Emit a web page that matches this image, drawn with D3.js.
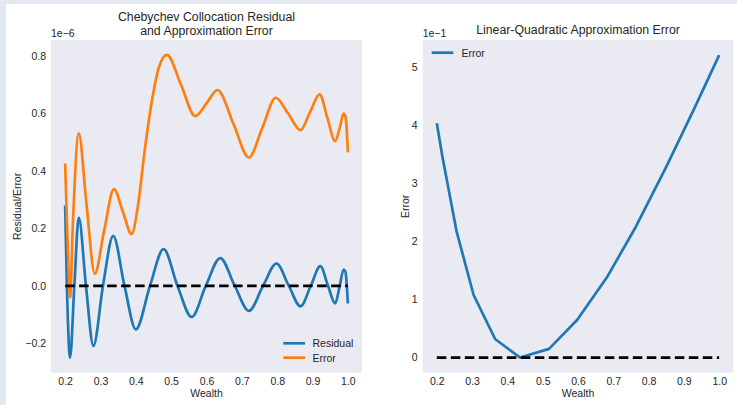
<!DOCTYPE html>
<html>
<head>
<meta charset="utf-8">
<script src="https://cdn.jsdelivr.net/npm/d3@7"></script>
<style>
  html, body { margin: 0; padding: 0; background: #e2e8f0; }
  svg { display: block; }
  text { font-family: "Liberation Sans", Arial, sans-serif; fill: #262626; }
</style>
</head>
<body>
<svg id="chart" width="737" height="405"></svg>
<script>
// ---- Left panel: Chebyshev collocation (values in units of 1e-6) ----
const chebX = [0.2, 0.205, 0.214, 0.226, 0.2385, 0.259, 0.28, 0.307, 0.336, 0.368, 0.40, 0.44, 0.4785, 0.518, 0.558, 0.598, 0.639, 0.68, 0.72, 0.76, 0.798, 0.833, 0.866, 0.895, 0.922, 0.944, 0.964, 0.977, 0.988, 0.993, 1.0];
const residual = [0.28, 0.0, -0.25, 0.0, 0.238, 0.0, -0.209, 0.0, 0.174, 0.0, -0.151, 0.0, 0.128, 0.0, -0.108, 0.0, 0.097, 0.0, -0.087, 0.0, 0.078, 0.0, -0.071, 0.0, 0.069, 0.0, -0.061, 0.0, 0.057, 0.05, -0.061];

const errX = [0.2, 0.207, 0.214, 0.222, 0.2385, 0.26, 0.284, 0.31, 0.338, 0.363, 0.388, 0.405, 0.425, 0.445, 0.465, 0.488, 0.528, 0.568, 0.6, 0.631, 0.676, 0.72, 0.758, 0.796, 0.831, 0.866, 0.893, 0.92, 0.942, 0.964, 0.977, 0.988, 0.994, 1.0];
const chebError = [0.426, 0.15, -0.04, 0.22, 0.531, 0.29, 0.043, 0.19, 0.337, 0.26, 0.18, 0.27, 0.47, 0.64, 0.76, 0.804, 0.70, 0.591, 0.635, 0.682, 0.565, 0.447, 0.55, 0.655, 0.6, 0.542, 0.605, 0.667, 0.585, 0.504, 0.55, 0.60, 0.585, 0.465];

// ---- Right panel: linear-quadratic approximation error (units of 1e-1) ----
const lqX = [0.2, 0.216, 0.256, 0.304, 0.365, 0.436, 0.518, 0.598, 0.682, 0.764, 0.85, 0.93, 1.0];
const lqError = [4.03, 3.45, 2.17, 1.08, 0.32, 0.0, 0.15, 0.65, 1.38, 2.25, 3.28, 4.29, 5.2];

const xTicks = [0.2, 0.3, 0.4, 0.5, 0.6, 0.7, 0.8, 0.9, 1.0];
const leftYTicks = [-0.2, 0.0, 0.2, 0.4, 0.6, 0.8];
const rightYTicks = [0, 1, 2, 3, 4, 5];

const BLUE = "#1f77b4", ORANGE = "#ff7f0e", PANEL = "#eaeaf2";

const svg = d3.select("#chart");
svg.append("rect").attr("x", 6).attr("y", 4).attr("width", 731).attr("height", 401).attr("fill", "#ffffff");

function panel(opts) {
  const g = svg.append("g");
  const x = d3.scaleLinear().domain(opts.xDomain).range([opts.left, opts.right]);
  const y = d3.scaleLinear().domain(opts.yDomain).range([opts.bottom, opts.top]);

  g.append("rect")
    .attr("x", opts.left).attr("y", opts.top)
    .attr("width", opts.right - opts.left).attr("height", opts.bottom - opts.top)
    .attr("fill", PANEL);

  const clipId = opts.id + "-clip";
  svg.append("clipPath").attr("id", clipId).append("rect")
    .attr("x", opts.left).attr("y", opts.top)
    .attr("width", opts.right - opts.left).attr("height", opts.bottom - opts.top);

  const xa = g.append("g").attr("transform", `translate(0,${opts.bottom})`)
    .call(d3.axisBottom(x).tickValues(xTicks).tickFormat(d3.format(".1f")).tickSize(0).tickPadding(5));
  const ya = g.append("g").attr("transform", `translate(${opts.left},0)`)
    .call(d3.axisLeft(y).tickValues(opts.yTicks).tickFormat(opts.yFormat).tickSize(0).tickPadding(5));
  [xa, ya].forEach(a => {
    a.select(".domain").remove();
    a.selectAll("text").attr("font-size", 10.5).attr("fill", "#262626")
      .attr("font-family", "'Liberation Sans', Arial, sans-serif");
  });

  // axis titles
  g.append("text").attr("x", (opts.left + opts.right) / 2).attr("y", 397)
    .attr("text-anchor", "middle").attr("font-size", 10.5).text("Wealth");
  g.append("text")
    .attr("transform", `translate(${opts.yLabelX},${(opts.top + opts.bottom) / 2}) rotate(-90)`)
    .attr("text-anchor", "middle").attr("font-size", 10.5).text(opts.yLabel);
  // scale offset shown above the y axis
  g.append("text").attr("x", opts.left).attr("y", 37)
    .attr("font-size", 10.5).text(opts.offset);

  const plot = g.append("g").attr("clip-path", `url(#${clipId})`);
  return { g, plot, x, y };
}

// Left panel
const L = panel({
  id: "cheb", left: 51, right: 362, top: 40, bottom: 372.7,
  xDomain: [0.16, 1.04], yDomain: [-0.302, 0.856],
  yTicks: leftYTicks, yFormat: d => d3.format(".1f")(d).replace("-", "\u2212"),
  yLabel: "Residual/Error", yLabelX: 21, offset: "1e\u22126"
});
const smooth = (xs, x, y) => d3.line().x((d, i) => x(xs[i])).y(d => y(d)).curve(d3.curveMonotoneX);
L.plot.append("path").datum(residual).attr("fill", "none").attr("stroke", BLUE)
  .attr("stroke-width", 2.7).attr("stroke-linejoin", "round").attr("d", smooth(chebX, L.x, L.y));
L.plot.append("path").datum(chebError).attr("fill", "none").attr("stroke", ORANGE)
  .attr("stroke-width", 2.7).attr("stroke-linejoin", "round").attr("d", smooth(errX, L.x, L.y));
L.plot.append("line").attr("x1", L.x(0.2)).attr("x2", L.x(1.0)).attr("y1", L.y(0)).attr("y2", L.y(0))
  .attr("stroke", "#000").attr("stroke-width", 2.7).attr("stroke-dasharray", "9.5,4.5");

L.g.append("text").attr("x", 206.5).attr("y", 21).attr("text-anchor", "middle").attr("font-size", 12.3)
  .text("Chebychev Collocation Residual");
L.g.append("text").attr("x", 206.5).attr("y", 35).attr("text-anchor", "middle").attr("font-size", 12.3)
  .text("and Approximation Error");

const legL = L.g.append("g");
[["Residual", BLUE, 343.3], ["Error", ORANGE, 357.7]].forEach(([name, c, yy]) => {
  legL.append("line").attr("x1", 283.3).attr("x2", 305).attr("y1", yy).attr("y2", yy)
    .attr("stroke", c).attr("stroke-width", 2.7);
  legL.append("text").attr("x", 312.5).attr("y", yy + 3.8).attr("font-size", 10.5).text(name);
});

// Right panel
const R = panel({
  id: "lq", left: 422.7, right: 733.3, top: 40, bottom: 372.7,
  xDomain: [0.16, 1.04], yDomain: [-0.26, 5.46],
  yTicks: rightYTicks, yFormat: d3.format("d"),
  yLabel: "Error", yLabelX: 409, offset: "1e\u22121"
});
R.plot.append("path").datum(lqError).attr("fill", "none").attr("stroke", BLUE)
  .attr("stroke-width", 2.7).attr("stroke-linejoin", "round")
  .attr("d", d3.line().x((d, i) => R.x(lqX[i])).y(d => R.y(d)));
R.plot.append("line").attr("x1", R.x(0.2)).attr("x2", R.x(1.0)).attr("y1", R.y(0)).attr("y2", R.y(0))
  .attr("stroke", "#000").attr("stroke-width", 2.7).attr("stroke-dasharray", "9.5,4.5");

R.g.append("text").attr("x", 578).attr("y", 34).attr("text-anchor", "middle").attr("font-size", 12.3)
  .text("Linear-Quadratic Approximation Error");
R.g.append("line").attr("x1", 431.7).attr("x2", 453.3).attr("y1", 52.7).attr("y2", 52.7)
  .attr("stroke", BLUE).attr("stroke-width", 2.7);
R.g.append("text").attr("x", 461.5).attr("y", 56.5).attr("font-size", 10.5).text("Error");
</script>
</body>
</html>
